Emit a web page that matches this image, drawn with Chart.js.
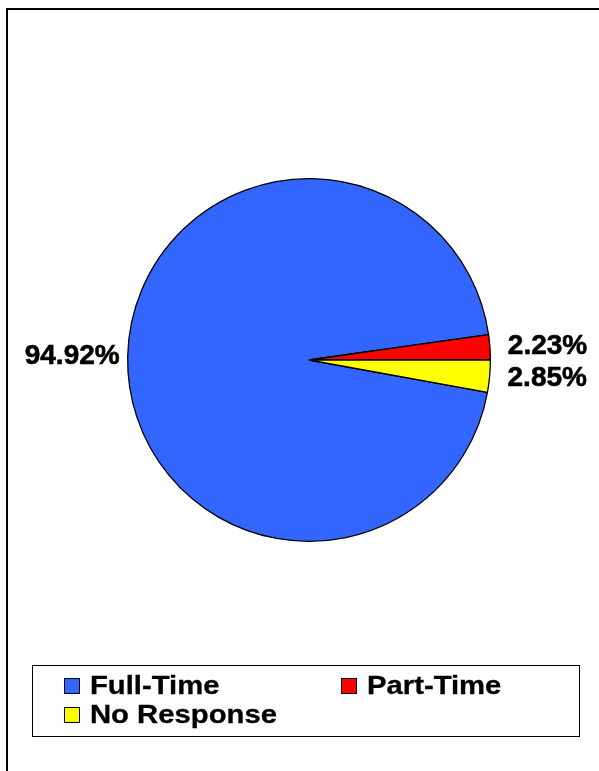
<!DOCTYPE html>
<html>
<head>
<meta charset="utf-8">
<script src="https://cdn.jsdelivr.net/npm/chart.js@4"></script>
<style>
  body { margin: 0; background: #fff; font-family: "Liberation Sans", Arial, sans-serif; }
  #frame { position: absolute; left: 6px; top: 8px; width: 700px; height: 900px; border: 2px solid #000; }
  #wrap { position: absolute; left: 0; top: 0; width: 599px; height: 771px; }
  #legend { position: absolute; left: 32px; top: 665px; width: 546px; height: 70px; border: 1px solid #000; }
  .item { position: absolute; font-weight: bold; font-size: 25px; line-height: 25px; white-space: nowrap; }
  .box { display: inline-block; width: 14px; height: 14px; border: 1px solid #000; margin-right: 10px; vertical-align: 0px; }
  .txt { display: inline-block; transform: scaleX(1.17); transform-origin: left center; -webkit-text-stroke: 0.3px #000; }
</style>
</head>
<body>
<div id="frame"></div>
<div id="wrap"><canvas id="pieChart"></canvas></div>
<div id="legend"></div>
<script>
const categories = ["Full-Time", "Part-Time", "No Response"];
const values = [94.92, 2.23, 2.85];
const colors = ["#3366FF", "#FF0000", "#FFFF00"];

// labels outside the pie, near edge
const outsideLabels = {
  id: "outsideLabels",
  afterDatasetsDraw(chart) {
    const ctx = chart.ctx;
    const meta = chart.getDatasetMeta(0);
    ctx.save();
    ctx.font = "bold 28px 'Liberation Sans', Arial, sans-serif";
    ctx.fillStyle = "#000";
    ctx.strokeStyle = "#000";
    ctx.lineWidth = 0.6;
    ctx.textBaseline = "middle";
    meta.data.forEach((arc, i) => {
      const a = (arc.startAngle + arc.endAngle) / 2;
      const right = Math.cos(a) >= 0;
      const d = arc.outerRadius + (right ? 18 : 8);
      const x = arc.x + Math.cos(a) * d;
      const y = arc.y + Math.sin(a) * d;
      ctx.textAlign = right ? "left" : "right";
      const t = values[i].toFixed(2) + "%";
      ctx.fillText(t, x, y);
      ctx.strokeText(t, x, y);
    });
    ctx.restore();
  }
};

const ctxP = document.getElementById("pieChart").getContext("2d");
new Chart(ctxP, {
  type: "pie",
  plugins: [outsideLabels],
  data: {
    labels: categories,
    datasets: [{
      data: values,
      backgroundColor: colors,
      borderColor: "#000",
      borderWidth: 1.3
    }]
  },
  options: {
    responsive: true,
    maintainAspectRatio: false,
    animation: false,
    rotation: 90 + values[2] * 3.6,
    layout: { padding: { left: 127, right: 108, top: 178, bottom: 229 } },
    plugins: {
      legend: { display: false },
      tooltip: { enabled: false }
    }
  }
});

// legend in a bordered box, two columns
const legend = document.getElementById("legend");
const cols = [31, 308];
const rows = [7, 36];
categories.forEach((c, i) => {
  const el = document.createElement("div");
  el.className = "item";
  el.style.left = cols[i % 2] + "px";
  el.style.top = rows[Math.floor(i / 2)] + "px";
  el.innerHTML = '<span class="box" style="background:' + colors[i] + '"></span><span class="txt">' + c + '</span>';
  legend.appendChild(el);
});
</script>
</body>
</html>
